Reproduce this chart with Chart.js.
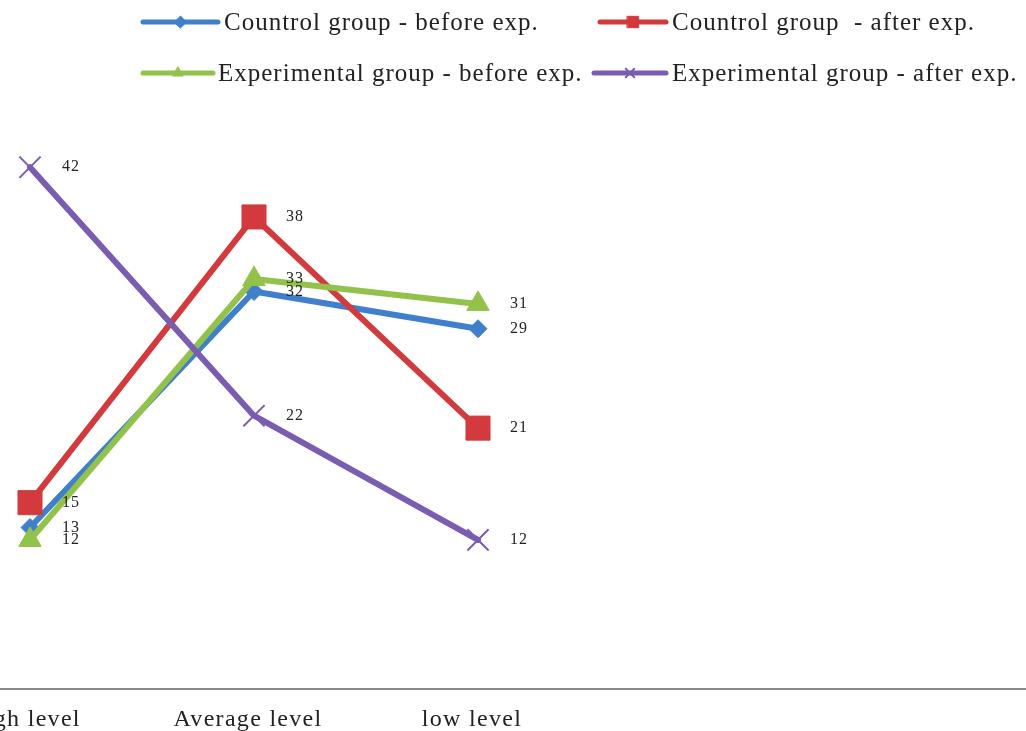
<!DOCTYPE html>
<html>
<head>
<meta charset="utf-8">
<script src="https://cdn.jsdelivr.net/npm/chart.js@4/dist/chart.umd.min.js"></script>
<style>
  html, body { margin: 0; padding: 0; background: #fff; }
  #wrap { width: 1026px; height: 731px; position: relative; }
</style>
</head>
<body>
<div id="wrap"><canvas id="c" width="1026" height="731"></canvas></div>
<script>
const categories = ['High level', 'Average level', 'low level'];
const seriesNames = [
  'Countrol group - before exp.',
  'Countrol group  - after exp.',
  'Experimental group - before exp.',
  'Experimental group - after exp.'
];
const controlBefore = [13, 32, 29];
const controlAfter = [15, 38, 21];
const experimentalBefore = [12, 33, 31];
const experimentalAfter = [42, 22, 12];

const colors = ['#3f7fcb', '#d23a3d', '#93c24a', '#7a5cb0'];
const styles = ['rectRot', 'rect', 'triangle', 'crossRot'];
const radii = [9, 17, 13, 15];
const values = [controlBefore, controlAfter, experimentalBefore, experimentalAfter];

const SERIF = '"Liberation Serif", "DejaVu Serif", serif';

const datasets = values.map((vals, i) => ({
  label: seriesNames[i],
  data: vals.map((v, j) => ({ x: j, y: v })),
  borderColor: colors[i],
  backgroundColor: colors[i],
  pointBackgroundColor: colors[i],
  pointBorderColor: colors[i],
  pointStyle: styles[i],
  pointRadius: radii[i],
  pointBorderWidth: i === 3 ? 2 : 1,
  borderWidth: 6,
  tension: 0,
  order: 4 - i,
  borderCapStyle: 'round',
  borderJoinStyle: 'round'
}));

const spacing = {
  id: 'spacing',
  beforeDraw(chart) { chart.ctx.letterSpacing = '1.3px'; }
};

const valueLabels = {
  id: 'valueLabels',
  afterDatasetsDraw(chart) {
    const ctx = chart.ctx;
    ctx.save();
    ctx.letterSpacing = '1px';
    ctx.font = '16px ' + SERIF;
    ctx.fillStyle = '#222';
    ctx.textAlign = 'left';
    ctx.textBaseline = 'middle';
    chart.data.datasets.forEach((ds, i) => {
      const meta = chart.getDatasetMeta(i);
      meta.data.forEach((el, j) => {
        ctx.fillText(String(ds.data[j].y), el.x + 32, el.y);
      });
    });
    ctx.restore();
  }
};

const legendSlots = [
  { x0: 143, x1: 218, tx: 224, y: 22 },
  { x0: 600, x1: 666, tx: 672, y: 22 },
  { x0: 143, x1: 213, tx: 218, y: 73 },
  { x0: 594, x1: 666, tx: 672, y: 73 }
];

const customLegend = {
  id: 'customLegend',
  afterDraw(chart) {
    const ctx = chart.ctx;
    ctx.save();
    chart.data.datasets.forEach((ds, i) => {
      const s = legendSlots[i];
      ctx.strokeStyle = ds.borderColor;
      ctx.lineWidth = 5;
      ctx.lineCap = 'round';
      ctx.beginPath();
      ctx.moveTo(s.x0, s.y);
      ctx.lineTo(s.x1, s.y);
      ctx.stroke();
      ctx.fillStyle = ds.borderColor;
      ctx.strokeStyle = ds.borderColor;
      ctx.lineWidth = i === 3 ? 2 : 1;
      Chart.helpers.drawPoint(ctx, { pointStyle: ds.pointStyle, radius: i === 1 ? 8 : 6, rotation: 0, borderWidth: ctx.lineWidth }, (s.x0 + s.x1) / 2, s.y);
      ctx.fillStyle = '#222';
      ctx.letterSpacing = '1px';
      ctx.font = '25px ' + SERIF;
      ctx.textAlign = 'left';
      ctx.textBaseline = 'middle';
      ctx.fillText(ds.label, s.tx, s.y + 1);
    });
    ctx.restore();
  }
};

new Chart(document.getElementById('c'), {
  type: 'line',
  data: { datasets },
  options: {
    responsive: false,
    animation: false,
    events: [],
    layout: { autoPadding: false, padding: { top: 130, left: 0, right: 0, bottom: 0 } },
    plugins: { legend: { display: false }, tooltip: { enabled: false }, title: { display: false } },
    scales: {
      x: {
        type: 'linear',
        min: -30 / 224,
        max: 996 / 224,
        afterBuildTicks(scale) {
          scale.ticks = categories.map((c, i) => ({ value: i }));
        },
        afterFit(scale) {
          scale.height = 42;
          scale.paddingLeft = 0;
          scale.paddingRight = 0;
        },
        ticks: {
          callback: (v) => categories[v],
          font: { family: SERIF, size: 24 },
          color: '#222',
          padding: 16,
          labelOffset: -6,
          maxRotation: 0,
          autoSkip: false
        },
        grid: { display: false, drawTicks: false },
        border: { display: true, color: '#8a8a8a', width: 2 }
      },
      y: {
        display: false,
        min: 0,
        max: 45
      }
    }
  },
  plugins: [spacing, valueLabels, customLegend]
});
</script>
</body>
</html>
